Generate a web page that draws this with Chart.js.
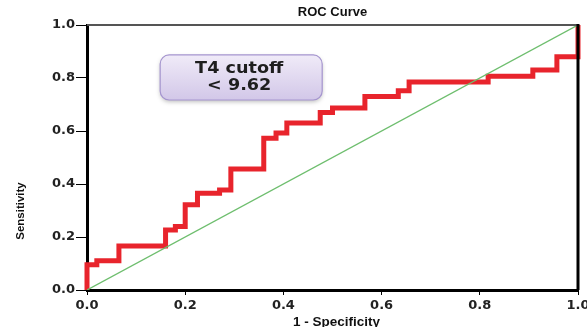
<!DOCTYPE html>
<html>
<head>
<meta charset="utf-8">
<script src="https://cdn.jsdelivr.net/npm/chart.js@4/dist/chart.umd.min.js"></script>
<style>
  html, body { margin: 0; padding: 0; background: #fff; }
  #wrap { width: 587px; height: 327px; }
</style>
</head>
<body>
<div id="wrap"><canvas id="rocChart" width="587" height="327"></canvas></div>
<script>
// ROC step curve (1 - specificity, sensitivity) at each step corner
const fpr = [0, 0, 0.02, 0.065, 0.16, 0.18, 0.2, 0.225, 0.27, 0.293, 0.36, 0.385, 0.407,
             0.475, 0.5, 0.566, 0.634, 0.656, 0.817, 0.908, 0.957, 1.0];
const tpr = [0, 0.095, 0.11, 0.166, 0.226, 0.24, 0.322, 0.365, 0.377, 0.457, 0.573, 0.592, 0.63,
             0.67, 0.687, 0.73, 0.752, 0.785, 0.807, 0.83, 0.88, 1.0];

// reference diagonal
const diagX = [0, 1];
const diagY = [0, 1];

const titleText = 'ROC Curve';
const xTitle = '1 - Specificity';
const yTitle = 'Sensitivity';
const noteLines = ['T4 cutoff', '< 9.62'];

const FONT = '"Liberation Sans", Arial, sans-serif';
const WIDE = '"DejaVu Sans", sans-serif';

// Draw the title, axis titles, frame and the cutoff note
const decorations = {
    id: 'decorations',
    afterDatasetsDraw(chart) {
        const { ctx, chartArea: a, scales } = chart;
        ctx.save();
        // top and right frame
        ctx.strokeStyle = '#555';
        ctx.lineWidth = 2;
        ctx.beginPath();
        ctx.moveTo(a.left, a.top);
        ctx.lineTo(a.right, a.top);
        ctx.stroke();
        ctx.strokeStyle = '#000';
        ctx.lineWidth = 3;
        ctx.beginPath();
        ctx.moveTo(a.right, a.top - 1);
        ctx.lineTo(a.right, a.bottom);
        ctx.stroke();

        // cutoff note box
        const x0 = scales.x.getPixelForValue(0.149);
        const x1 = scales.x.getPixelForValue(0.479);
        const y0 = scales.y.getPixelForValue(0.887);
        const y1 = scales.y.getPixelForValue(0.717);
        ctx.shadowColor = 'rgba(0,0,0,0.25)';
        ctx.shadowBlur = 4;
        ctx.shadowOffsetY = 2;
        const grad = ctx.createLinearGradient(0, y0, 0, y1);
        grad.addColorStop(0, '#f0ebf8');
        grad.addColorStop(1, '#d2c7e8');
        ctx.fillStyle = grad;
        ctx.beginPath();
        ctx.roundRect(x0, y0, x1 - x0, y1 - y0, 9);
        ctx.fill();
        ctx.shadowColor = 'transparent';
        ctx.strokeStyle = '#a595cf';
        ctx.lineWidth = 1.2;
        ctx.stroke();
        ctx.fillStyle = '#1e1e1e';
        ctx.font = 'bold 16px ' + WIDE;
        ctx.textAlign = 'center';
        ctx.textBaseline = 'middle';
        const cx = (x0 + x1) / 2 - 2;
        ctx.save();
        ctx.translate(cx, 0);
        ctx.scale(1.1, 1);
        ctx.fillText(noteLines[0], 0, y0 + 14);
        ctx.fillText(noteLines[1], 0, y0 + 31);
        ctx.restore();

        // titles
        ctx.fillStyle = '#111';
        ctx.font = 'bold 13px ' + FONT;
        ctx.fillText(titleText, (a.left + a.right) / 2, 12);
        ctx.font = 'bold 13.5px ' + FONT;
        ctx.fillText(xTitle, (a.left + a.right) / 2 + 4, 322);
        ctx.translate(21, 211);
        ctx.rotate(-Math.PI / 2);
        ctx.font = 'bold 11.5px ' + FONT;
        ctx.fillText(yTitle, 0, 0);
        ctx.restore();
    }
};

const ctx = document.getElementById('rocChart').getContext('2d');
const rocChart = new Chart(ctx, {
    type: 'line',
    data: {
        datasets: [{
            label: 'Reference',
            data: diagX.map((x, i) => ({ x: x, y: diagY[i] })),
            borderColor: 'rgb(110, 190, 110)',
            borderWidth: 1.3,
            pointRadius: 0,
            order: 0
        }, {
            label: 'ROC',
            data: fpr.map((x, i) => ({ x: x, y: tpr[i] })),
            borderColor: 'rgb(232, 36, 44)',
            borderWidth: 5,
            stepped: 'before',
            pointRadius: 0,
            clip: 4,
            order: 1
        }]
    },
    options: {
        responsive: false,
        animation: false,
        layout: { padding: { top: 25, right: 9, left: 0, bottom: 0 } },
        plugins: { legend: { display: false }, tooltip: { enabled: false } },
        scales: {
            x: {
                type: 'linear',
                min: 0,
                max: 1,
                afterFit: (s) => { s.height = 37; s.paddingLeft = 0; s.paddingRight = 0; },
                ticks: {
                    stepSize: 0.2,
                    color: '#222',
                    padding: 3,
                    maxRotation: 0,
                    font: { family: WIDE, size: 13, weight: 'bold' },
                    callback: (v) => v.toFixed(1)
                },
                grid: { drawOnChartArea: false, tickLength: 5, color: '#000', tickWidth: 1 },
                border: { color: '#000', width: 3 }
            },
            y: {
                type: 'linear',
                min: 0,
                max: 1,
                afterFit: (s) => { s.width = 87; s.paddingTop = 0; s.paddingBottom = 0; },
                ticks: {
                    stepSize: 0.2,
                    color: '#222',
                    padding: 1,
                    font: { family: WIDE, size: 13, weight: 'bold' },
                    callback: (v) => v.toFixed(1)
                },
                grid: { drawOnChartArea: false, tickLength: 11, color: '#000', tickWidth: 1 },
                border: { color: '#000', width: 3 }
            }
        }
    },
    plugins: [decorations]
});
</script>
</body>
</html>
